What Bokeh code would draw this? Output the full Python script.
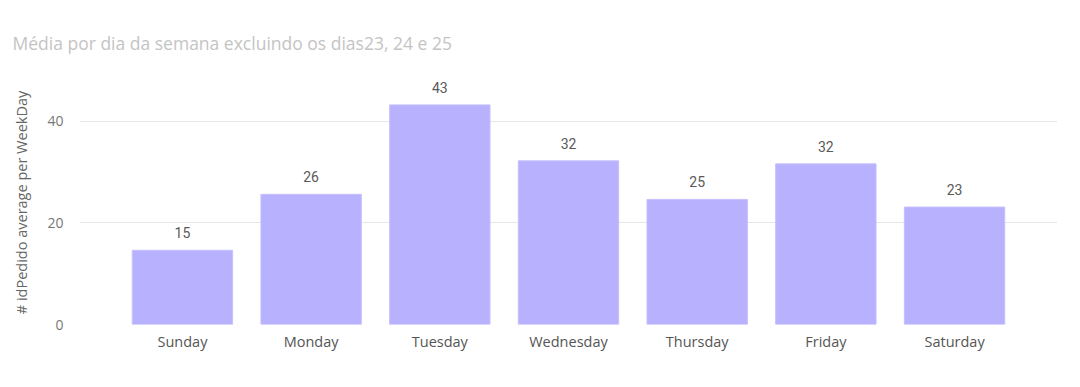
from bokeh.plotting import figure
from bokeh.models import ColumnDataSource, FactorRange, Range1d, FixedTicker, LabelSet
from bokeh.core.properties import value
from bokeh.embed import file_html
from bokeh.resources import INLINE

days = ["Sunday", "Monday", "Tuesday", "Wednesday", "Thursday", "Friday", "Saturday"]
averages = [14.6, 25.6, 43.2, 32.2, 24.6, 31.6, 23.1]
labels = ["15", "26", "43", "32", "25", "32", "23"]
y_ticks = [0, 20, 40]

title_text = "Média por dia da semana excluindo os dias23, 24 e 25"
y_title = "# idPedido average per WeekDay"

src = ColumnDataSource(dict(day=days, avg=averages, lab=labels))

p = figure(width=1080, height=387, output_backend="svg", toolbar_location=None,
           x_range=FactorRange(*days, range_padding=0.3, range_padding_units="absolute"),
           y_range=Range1d(0, 48),
           min_border_left=79, min_border_right=23, min_border_top=80, min_border_bottom=63)

p.vbar(x="day", top="avg", width=0.78, source=src, fill_color="#B8B2FE",
       line_color="#C4BFFF", line_width=1)

lbl = LabelSet(x="day", y="avg", text="lab", source=src, text_align="center",
               text_baseline="bottom", y_offset=12, text_font_size=value("14px"),
               text_color="#5A5A5A", text_font=value("Roboto"))
p.add_layout(lbl)

p.title.text = title_text
p.title.text_font = "Open Sans"
p.title.text_font_size = "17.5px"
p.title.text_font_style = "normal"
p.title.text_color = "#C4C4C4"
p.title.offset = -67
p.title.standoff = 52

p.yaxis.ticker = FixedTicker(ticks=y_ticks)
p.yaxis.axis_label = y_title
p.yaxis.axis_label_text_font = "Open Sans"
p.yaxis.axis_label_text_font_size = "14.5px"
p.yaxis.axis_label_text_font_style = "normal"
p.yaxis.axis_label_text_color = "#666666"
p.yaxis.axis_label_standoff = 13
p.yaxis.major_label_text_font = "Open Sans"
p.yaxis.major_label_text_font_size = "14px"
p.yaxis.major_label_text_color = "#777777"
p.yaxis.major_label_standoff = 10

p.xaxis.major_label_text_font = "Open Sans"
p.xaxis.major_label_text_font_size = "14.5px"
p.xaxis.major_label_text_color = "#555555"
p.xaxis.major_label_standoff = 1

for ax in (p.xaxis, p.yaxis):
    ax.axis_line_color = None
    ax.major_tick_line_color = None
    ax.minor_tick_line_color = None

p.xgrid.grid_line_color = None
p.ygrid.ticker = FixedTicker(ticks=y_ticks)
p.ygrid.grid_line_color = "#E6E6E6"
p.ygrid.grid_line_width = 1
p.outline_line_color = None

open("out.html", "w").write(file_html(p, INLINE))
